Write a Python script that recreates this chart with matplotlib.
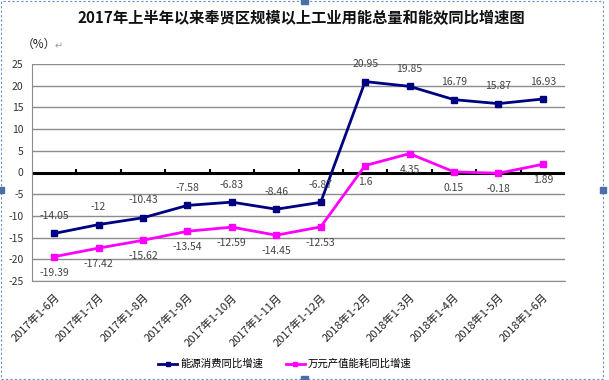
import numpy as np
import matplotlib
matplotlib.use('Agg')
import matplotlib.pyplot as plt
from matplotlib.patches import Rectangle

plt.rcParams['font.family'] = ['Noto Sans CJK SC', 'DejaVu Sans']

categories = ['2017年1-6月', '2017年1-7月', '2017年1-8月', '2017年1-9月', '2017年1-10月',
              '2017年1-11月', '2017年1-12月', '2018年1-2月', '2018年1-3月', '2018年1-4月',
              '2018年1-5月', '2018年1-6月']
energy = [-14.05, -12, -10.43, -7.58, -6.83, -8.46, -6.87, 20.95, 19.85, 16.79, 15.87, 16.93]
intensity = [-19.39, -17.42, -15.62, -13.54, -12.59, -14.45, -12.53, 1.6, 4.35, 0.15, -0.18, 1.89]
energy_labels = ['-14.05', '-12', '-10.43', '-7.58', '-6.83', '-8.46', '-6.87',
                 '20.95', '19.85', '16.79', '15.87', '16.93']
intensity_labels = ['-19.39', '-17.42', '-15.62', '-13.54', '-12.59', '-14.45', '-12.53',
                    '1.6', '4.35', '0.15', '-0.18', '1.89']
yticks = [-25, -20, -15, -10, -5, 0, 5, 10, 15, 20, 25]

fig = plt.figure(figsize=(6.09, 3.80), dpi=100)
ax = fig.add_axes([32/609, 1-281/380, 533/609, 217/380])

x = np.arange(len(categories))

for y in yticks:
    ax.axhline(y, color='#8c8c8c', lw=1.0, zorder=1)
ax.axhline(0, color='black', lw=2.2, zorder=2)
ax.vlines(np.arange(0.5, len(categories) - 1), 0, 0.7, color='black', lw=1.5, zorder=2)

ax.plot(x, energy, color='#000080', lw=2, marker='s', ms=5, zorder=4, label='能源消费同比增速')
ax.plot(x, intensity, color='#ff00ff', lw=2, marker='s', ms=5, zorder=3, label='万元产值能耗同比增速')

for xi, v, t in zip(x, energy, energy_labels):
    ax.annotate(t, (xi, v), xytext=(0, 9), textcoords='offset points', ha='center',
                va='bottom', fontsize=7.5, color='#444444', zorder=5)
for xi, v, t in zip(x, intensity, intensity_labels):
    ax.annotate(t, (xi, v), xytext=(0, -8), textcoords='offset points', ha='center',
                va='top', fontsize=7.5, color='#444444', zorder=5)

ax.set_xlim(-0.5, len(categories) - 0.5)
ax.set_ylim(-25, 25)
ax.set_yticks(yticks)
ax.set_yticklabels([str(v) for v in yticks], fontsize=7.5, color='#333333')
ax.set_xticks(x)
ax.set_xticklabels(categories, rotation=45, ha='right', rotation_mode='anchor',
                   fontsize=8, color='#222222')
ax.tick_params(axis='x', length=0, pad=8)
ax.tick_params(axis='y', length=0, pad=6)
for s in ['top', 'right']:
    ax.spines[s].set_visible(False)
ax.spines['left'].set_color('#8c8c8c')
ax.spines['bottom'].set_color('#8c8c8c')

fig.text(0.495, 1-18/380, '2017年上半年以来奉贤区规模以上工业用能总量和能效同比增速图',
         ha='center', va='center', fontsize=11, fontweight='bold', color='#111111')
fig.text(22/609, 1-44/380, '（%）', ha='left', va='center', fontsize=8.5, color='#222222')
fig.text(55/609, 1-46/380, '↵', ha='left', va='center', fontsize=7, color='#999999')

fig.legend(loc='center', bbox_to_anchor=(0.468, 1-364/380), ncol=2, frameon=False,
           fontsize=7.5, handlelength=1.8, handletextpad=0.3, columnspacing=2.2,
           markerscale=0.7)

fig.patches.append(Rectangle((0.002, 0.003), 0.988, 0.994, transform=fig.transFigure,
                             fill=False, ls=(0, (2, 2)), lw=0.8, color='#6a8fc8'))
for hx, hy in [(0.5, 0.997), (0.002, 0.5), (0.99, 0.5), (0.5, 0.003)]:
    fig.patches.append(Rectangle((hx - 0.005, hy - 0.007), 0.01, 0.014,
                                 transform=fig.transFigure, color='#4a6fa8'))

fig.savefig('out.png', dpi=100)
